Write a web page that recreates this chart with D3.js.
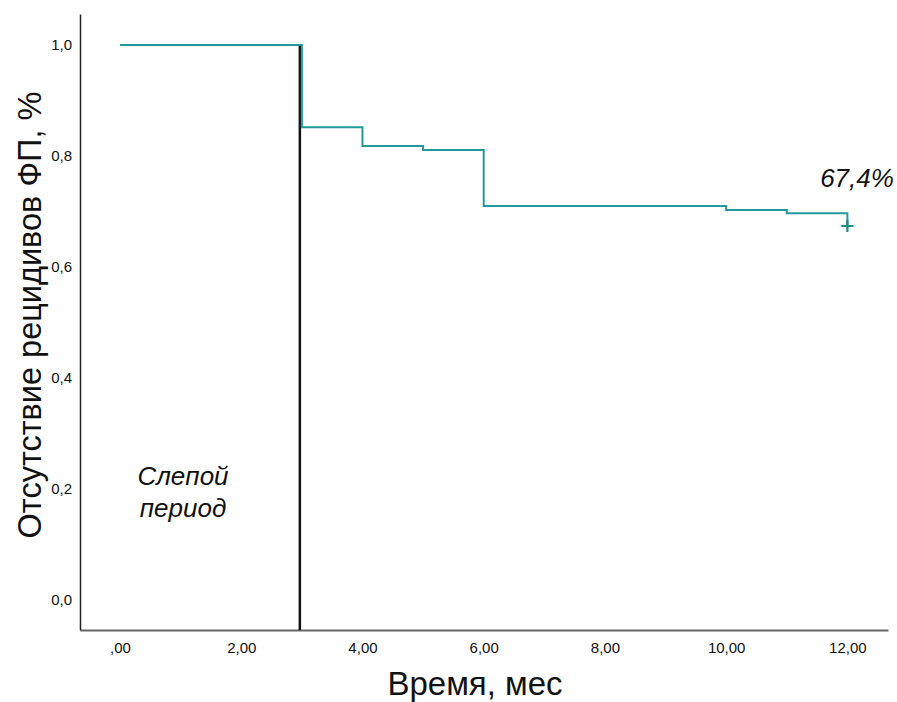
<!DOCTYPE html>
<head>
    <meta charset="utf-8">
    <script type="text/javascript" src="https://d3js.org/d3.v7.min.js"></script>
    <style>
        body { margin: 0; background: #fff; }
        .chart text { font-family: "Liberation Sans", Arial, sans-serif; fill: #111; }
    </style>
</head>

<svg class="chart"></svg>

<script>
    // Kaplan-Meier steps (time, survival after step)
    var stepTimes = [0, 3, 4, 5, 6, 10, 11, 12];
    var stepValues = [1.0, 0.852, 0.818, 0.811, 0.710, 0.703, 0.697, 0.674];
    var censorTimes = [12];
    var censorValues = [0.674];

    var xTicks = [0, 2, 4, 6, 8, 10, 12];
    var xTickLabels = [",00", "2,00", "4,00", "6,00", "8,00", "10,00", "12,00"];
    var yTicks = [0, 0.2, 0.4, 0.6, 0.8, 1.0];
    var yTickLabels = ["0,0", "0,2", "0,4", "0,6", "0,8", "1,0"];

    var blindEnd = 3;

    var width = 897, height = 702;

    var chart = d3.select(".chart")
        .attr("width", width)
        .attr("height", height);

    var x = d3.scaleLinear()
        .domain([-0.66, 12.67])
        .range([80, 888]);

    var y = d3.scaleLinear()
        .domain([-0.054, 1.056])
        .range([630, 14]);

    // axes
    var xAxis = d3.axisBottom(x)
        .tickValues(xTicks)
        .tickSize(0)
        .tickPadding(12)
        .tickFormat(function(d, i) { return xTickLabels[i]; });

    var yAxis = d3.axisLeft(y)
        .tickValues(yTicks)
        .tickSize(0)
        .tickPadding(8)
        .tickFormat(function(d, i) { return yTickLabels[i]; });

    var gx = chart.append("g")
        .attr("transform", "translate(0," + y.range()[0] + ")")
        .call(xAxis);
    gx.select(".domain").attr("stroke", "#666").attr("stroke-width", 2);

    var gy = chart.append("g")
        .attr("transform", "translate(" + x.range()[0] + ",0)")
        .call(yAxis);
    gy.select(".domain").attr("stroke", "#222").attr("stroke-width", 1.5);

    chart.selectAll(".tick text")
        .attr("fill", "#111")
        .attr("font-size", 15)
        .style("font-size", "15px");

    // blind period line
    chart.append("line")
        .attr("x1", x(blindEnd) - 2)
        .attr("x2", x(blindEnd) - 2)
        .attr("y1", y(1.0))
        .attr("y2", y.range()[0])
        .attr("stroke", "#111")
        .attr("stroke-width", 2.5);

    // survival curve as steps
    var pts = stepTimes.map(function(t, i) { return [t, stepValues[i]]; });
    var curvePts = [];
    pts.forEach(function(p, i) {
        if (i > 0) curvePts.push([p[0], pts[i - 1][1]]);
        curvePts.push(p);
    });

    chart.append("path")
        .datum(curvePts)
        .attr("fill", "none")
        .attr("stroke", "#23999b")
        .attr("stroke-width", 2)
        .attr("d", d3.line()
            .x(function(d) { return x(d[0]); })
            .y(function(d) { return y(d[1]); }));

    // censor marks
    censorTimes.forEach(function(t, i) {
        var cx = x(t), cy = y(censorValues[i]);
        chart.append("path")
            .attr("d", "M" + (cx - 6) + "," + cy + "H" + (cx + 6) + "M" + cx + "," + (cy - 6) + "V" + (cy + 6))
            .attr("stroke", "#1e8a8c")
            .attr("stroke-width", 2.2);
    });

    // annotations
    chart.append("text")
        .attr("x", 857)
        .attr("y", 187)
        .attr("text-anchor", "middle")
        .style("font-size", "26px")
        .style("font-style", "italic")
        .text("67,4%");

    chart.append("text")
        .attr("x", 183)
        .attr("y", 485)
        .attr("text-anchor", "middle")
        .style("font-size", "26px")
        .style("font-style", "italic")
        .text("Слепой");

    chart.append("text")
        .attr("x", 183)
        .attr("y", 517)
        .attr("text-anchor", "middle")
        .style("font-size", "26px")
        .style("font-style", "italic")
        .text("период");

    // axis titles
    chart.append("text")
        .attr("x", 475)
        .attr("y", 695)
        .attr("text-anchor", "middle")
        .style("font-size", "33px")
        .text("Время, мес");

    chart.append("text")
        .attr("transform", "translate(41,315) rotate(-90)")
        .attr("text-anchor", "middle")
        .style("font-size", "32.5px")
        .text("Отсутствие рецидивов ФП, %");
</script>
